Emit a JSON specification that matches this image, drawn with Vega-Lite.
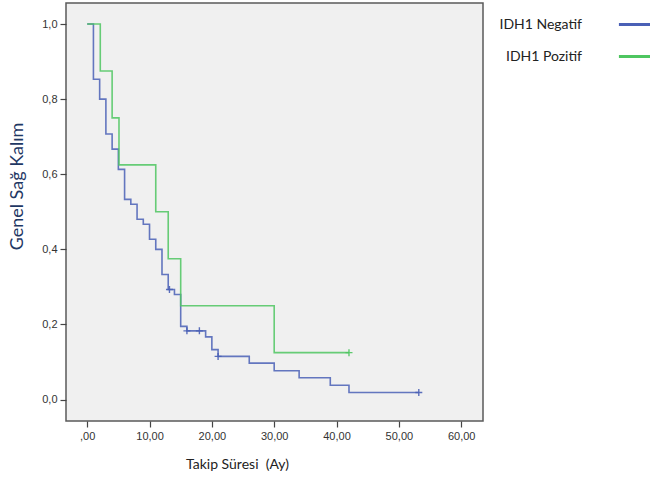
{
  "$schema": "https://vega.github.io/schema/vega-lite/v6.json",
  "autosize": {"type": "none"},
  "padding": {"left": 66, "top": 3, "right": 167, "bottom": 60},
  "width": 417,
  "height": 418,
  "background": "white",
  "config": {
    "view": {"stroke": "#5a5a5a", "strokeWidth": 1.5, "fill": "#f0f0f0"},
    "axis": {"grid": false, "domain": false, "tickSize": 6, "tickColor": "#444", "tickWidth": 1.2, "labelFont": "Liberation Sans", "labelFontSize": 11, "labelColor": "#333", "labelPadding": 3}
  },
  "datasets": {
    "curves": [
      {"grup": "IDH1 Negatif", "t": 0, "s": 1.0},
      {"grup": "IDH1 Negatif", "t": 1, "s": 0.853},
      {"grup": "IDH1 Negatif", "t": 2, "s": 0.8},
      {"grup": "IDH1 Negatif", "t": 3, "s": 0.707},
      {"grup": "IDH1 Negatif", "t": 4, "s": 0.667},
      {"grup": "IDH1 Negatif", "t": 5, "s": 0.613},
      {"grup": "IDH1 Negatif", "t": 6, "s": 0.533},
      {"grup": "IDH1 Negatif", "t": 7, "s": 0.52},
      {"grup": "IDH1 Negatif", "t": 8, "s": 0.48},
      {"grup": "IDH1 Negatif", "t": 9, "s": 0.467},
      {"grup": "IDH1 Negatif", "t": 10, "s": 0.427},
      {"grup": "IDH1 Negatif", "t": 11, "s": 0.4},
      {"grup": "IDH1 Negatif", "t": 12, "s": 0.333},
      {"grup": "IDH1 Negatif", "t": 13, "s": 0.293},
      {"grup": "IDH1 Negatif", "t": 14, "s": 0.28},
      {"grup": "IDH1 Negatif", "t": 15, "s": 0.195},
      {"grup": "IDH1 Negatif", "t": 16, "s": 0.183},
      {"grup": "IDH1 Negatif", "t": 19, "s": 0.167},
      {"grup": "IDH1 Negatif", "t": 20, "s": 0.133},
      {"grup": "IDH1 Negatif", "t": 21, "s": 0.115},
      {"grup": "IDH1 Negatif", "t": 26, "s": 0.097},
      {"grup": "IDH1 Negatif", "t": 30, "s": 0.077},
      {"grup": "IDH1 Negatif", "t": 34, "s": 0.058},
      {"grup": "IDH1 Negatif", "t": 39, "s": 0.038},
      {"grup": "IDH1 Negatif", "t": 42, "s": 0.019},
      {"grup": "IDH1 Negatif", "t": 53.2, "s": 0.019},
      {"grup": "IDH1 Pozitif", "t": 0, "s": 1.0},
      {"grup": "IDH1 Pozitif", "t": 2.1, "s": 0.875},
      {"grup": "IDH1 Pozitif", "t": 4, "s": 0.75},
      {"grup": "IDH1 Pozitif", "t": 5.1, "s": 0.625},
      {"grup": "IDH1 Pozitif", "t": 11, "s": 0.5},
      {"grup": "IDH1 Pozitif", "t": 13, "s": 0.375},
      {"grup": "IDH1 Pozitif", "t": 15, "s": 0.25},
      {"grup": "IDH1 Pozitif", "t": 30, "s": 0.125},
      {"grup": "IDH1 Pozitif", "t": 42, "s": 0.125}
    ],
    "censored": [
      {"grup": "IDH1 Negatif", "t": 13.2, "s": 0.293},
      {"grup": "IDH1 Negatif", "t": 16, "s": 0.183},
      {"grup": "IDH1 Negatif", "t": 18, "s": 0.183},
      {"grup": "IDH1 Negatif", "t": 21, "s": 0.115},
      {"grup": "IDH1 Negatif", "t": 53.2, "s": 0.019},
      {"grup": "IDH1 Pozitif", "t": 42, "s": 0.125}
    ]
  },
  "layer": [
    {
      "data": {"name": "curves"},
      "mark": {"type": "line", "interpolate": "step-after", "strokeWidth": 1.6, "opacity": 0.85},
      "encoding": {
        "x": {"field": "t", "type": "quantitative", "scale": {"domain": [-3.4, 63.5], "nice": false, "zero": false},
          "axis": {"values": [0, 10, 20, 30, 40, 50, 60], "labelExpr": "datum.value == 0 ? ',00' : replace(format(datum.value, '.2f'), '.', ',')",
            "title": "Takip Süresi \u00a0(Ay)", "titleFont": "Lato", "titleFontSize": 14, "titleFontWeight": "normal", "titleColor": "#222", "titleX": 171, "titleY": 36, "titleAlign": "center", "titleBaseline": "top"}},
        "y": {"field": "s", "type": "quantitative", "scale": {"domain": [-0.057, 1.056], "nice": false, "zero": false},
          "axis": {"values": [0, 0.2, 0.4, 0.6, 0.8, 1.0], "labelExpr": "replace(format(datum.value, '.1f'), '.', ',')",
            "title": "Genel Sağ Kalım", "titleFont": "Lato", "titleFontSize": 18, "titleFontWeight": "normal", "titleColor": "#1f3864", "titleX": -40, "titleY": 183, "titleAngle": -90, "titleAlign": "center", "titleBaseline": "bottom"}},
        "color": {"field": "grup", "type": "nominal",
          "scale": {"domain": ["IDH1 Negatif", "IDH1 Pozitif"], "range": ["#4a60b6", "#4ec660"]},
          "legend": {"orient": "none", "legendX": 551, "legendY": 3, "title": null, "symbolType": "stroke", "symbolSize": 1100, "symbolStrokeWidth": 3, "symbolOpacity": 1,
            "labelFont": "Lato", "labelFontSize": 14, "labelColor": "#222", "labelAlign": "right", "labelOffset": -72, "rowPadding": 6}}
      }
    },
    {
      "data": {"name": "censored"},
      "mark": {"type": "point", "shape": "M0,-1V1M-1,0H1", "size": 49, "strokeWidth": 1.4, "filled": false, "opacity": 0.9},
      "encoding": {
        "x": {"field": "t", "type": "quantitative"},
        "y": {"field": "s", "type": "quantitative"},
        "color": {"field": "grup", "type": "nominal", "legend": null}
      }
    }
  ]
}
